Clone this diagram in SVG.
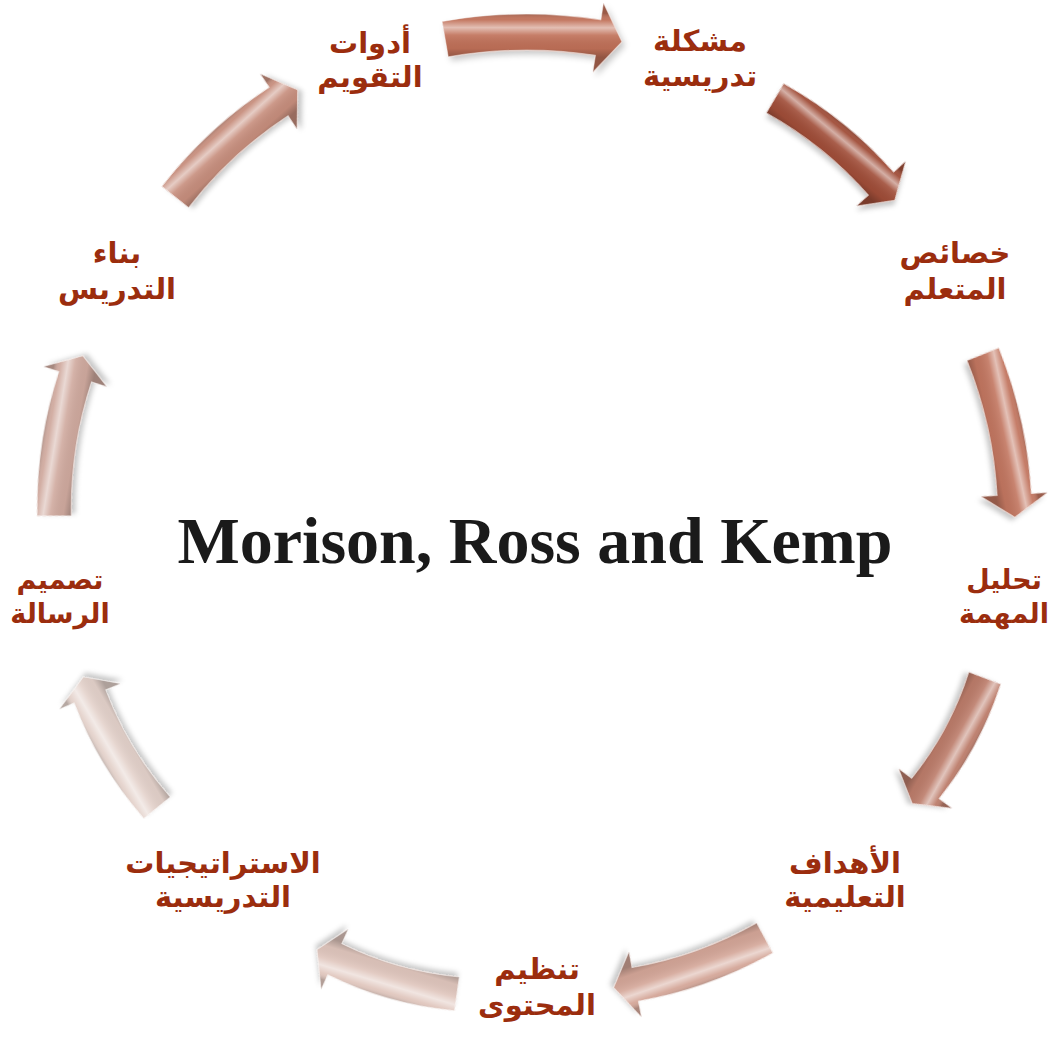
<svg xmlns="http://www.w3.org/2000/svg" xmlns:xlink="http://www.w3.org/1999/xlink" width="1053" height="1040" viewBox="0 0 1053 1040">
<style>
.lbl{font-family:"DejaVu Sans","Noto Sans",sans-serif;font-weight:bold;font-size:29px;fill:#9b2d0e;text-anchor:middle}
.sm{font-size:27px}
.title{font-family:"Liberation Serif","DejaVu Serif",serif;font-weight:bold;font-size:66px;fill:#1a1a1a;text-anchor:middle}
.shine{fill:url(#shine);stroke:#ffffff;stroke-opacity:0.45;stroke-width:1}
</style>
<defs>
<path id="arrowShape" d="M-2.9,-17.6 A494,494 0 0 1 155.9,-19.5 L158.4,-36.3 L176.9,2.6 L147.9,32.9 L150.5,16.1 A458,458 0 0 0 3.3,17.8 Z"/>
<linearGradient id="shine" gradientUnits="userSpaceOnUse" x1="0" y1="-26" x2="0" y2="18">
<stop offset="0" stop-color="#000" stop-opacity="0.2"/>
<stop offset="0.15" stop-color="#fff" stop-opacity="0.05"/>
<stop offset="0.33" stop-color="#fff" stop-opacity="0.55"/>
<stop offset="0.5" stop-color="#fff" stop-opacity="0.1"/>
<stop offset="0.8" stop-color="#000" stop-opacity="0.04"/>
<stop offset="1" stop-color="#000" stop-opacity="0.24"/>
</linearGradient>
<filter id="shadow" x="-20%" y="-20%" width="140%" height="140%">
<feDropShadow dx="3" dy="4" stdDeviation="3" flood-color="#000" flood-opacity="0.22"/>
</filter>
</defs>
<rect width="1053" height="1040" fill="#ffffff"/>
<g id="connectors">
<g transform="translate(445,39) rotate(0.1)"><use xlink:href="#arrowShape" fill="#c07058" filter="url(#shadow)"/><use xlink:href="#arrowShape" class="shine"/></g>
<g transform="translate(775,98) rotate(39.6) scale(0.89,0.95)"><use xlink:href="#arrowShape" fill="#a04e39" filter="url(#shadow)"/><use xlink:href="#arrowShape" class="shine"/></g>
<g transform="translate(983,354) rotate(78.1) scale(0.94,0.95)"><use xlink:href="#arrowShape" fill="#c27660" filter="url(#shadow)"/><use xlink:href="#arrowShape" class="shine"/></g>
<g transform="translate(985,678) rotate(119.1) scale(0.82,0.95)"><use xlink:href="#arrowShape" fill="#bc7c6b" filter="url(#shadow)"/><use xlink:href="#arrowShape" class="shine"/></g>
<g transform="translate(765,938) rotate(161) scale(0.9,0.95)"><use xlink:href="#arrowShape" fill="#d4a698" filter="url(#shadow)"/><use xlink:href="#arrowShape" class="shine"/></g>
<g transform="translate(457,994) rotate(196.6) scale(0.83,0.95)"><use xlink:href="#arrowShape" fill="#e0c6bd" filter="url(#shadow)"/><use xlink:href="#arrowShape" class="shine"/></g>
<g transform="translate(157,808) rotate(239.7) scale(0.85,0.95)"><use xlink:href="#arrowShape" fill="#e4d2cb" filter="url(#shadow)"/><use xlink:href="#arrowShape" class="shine"/></g>
<g transform="translate(54,516) rotate(279.3) scale(0.92,0.95)"><use xlink:href="#arrowShape" fill="#d0aa9f" filter="url(#shadow)"/><use xlink:href="#arrowShape" class="shine"/></g>
<g transform="translate(175,197) rotate(318) scale(0.92,0.95)"><use xlink:href="#arrowShape" fill="#c78e7d" filter="url(#shadow)"/><use xlink:href="#arrowShape" class="shine"/></g>
</g>
<g id="title"><text class="title" x="535" y="563">Morison, Ross and Kemp</text></g>
<g id="n1"><text class="lbl" x="700" y="51">مشكلة</text><text class="lbl" x="700" y="86">تدريسية</text></g>
<g id="n2"><text class="lbl" x="955" y="263">خصائص</text><text class="lbl" x="955" y="299">المتعلم</text></g>
<g id="n3"><text class="lbl sm" x="1004" y="589">تحليل</text><text class="lbl sm" x="1004" y="623">المهمة</text></g>
<g id="n4"><text class="lbl" x="845" y="873">الأهداف</text><text class="lbl" x="845" y="907">التعليمية</text></g>
<g id="n5"><text class="lbl" x="537" y="979">تنظيم</text><text class="lbl" x="537" y="1015">المحتوى</text></g>
<g id="n6"><text class="lbl" x="223" y="873">الاستراتيجيات</text><text class="lbl" x="223" y="907">التدريسية</text></g>
<g id="n7"><text class="lbl sm" x="60" y="589">تصميم</text><text class="lbl sm" x="60" y="623">الرسالة</text></g>
<g id="n8"><text class="lbl" x="117" y="263">بناء</text><text class="lbl" x="117" y="299">التدريس</text></g>
<g id="n9"><text class="lbl" x="370" y="53">أدوات</text><text class="lbl" x="370" y="87">التقويم</text></g>
</svg>
